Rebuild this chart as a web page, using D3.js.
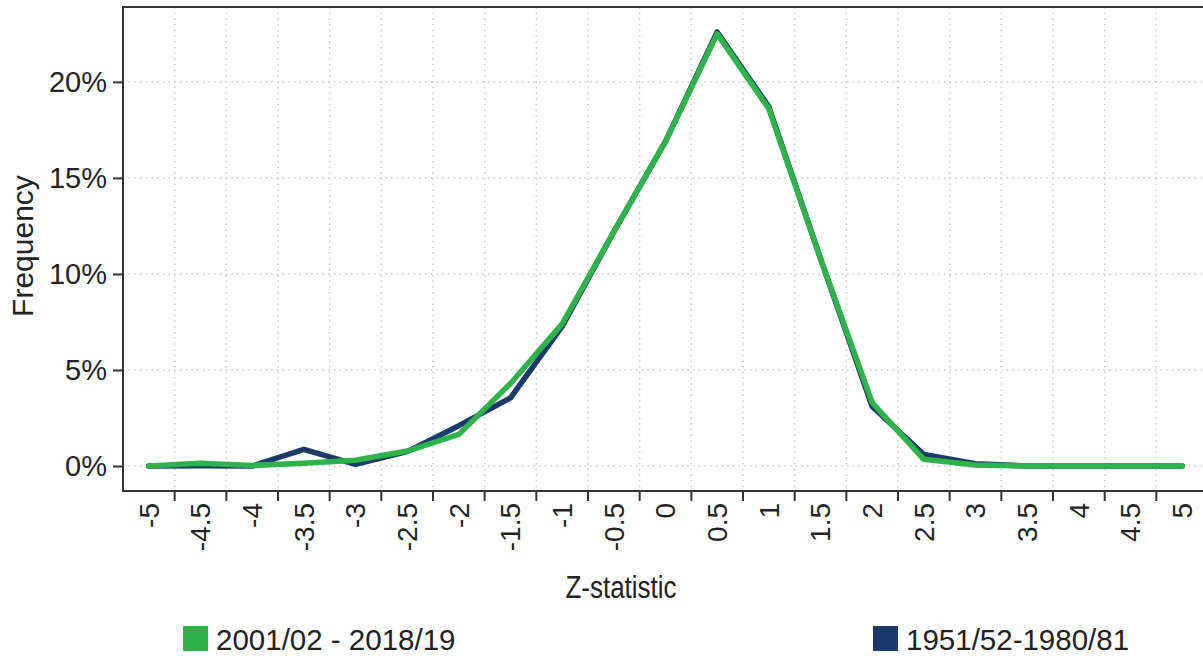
<!DOCTYPE html>
<html><head><meta charset="utf-8">
<script src="https://cdn.jsdelivr.net/npm/d3@7"></script>
<style>body{margin:0;background:#fff;} svg{display:block;font-family:"Liberation Sans",Arial,sans-serif;}</style>
</head><body>
<svg id="c" width="1203" height="658"></svg>
<script>
const categories = ["-5","-4.5","-4","-3.5","-3","-2.5","-2","-1.5","-1","-0.5","0","0.5","1","1.5","2","2.5","3","3.5","4","4.5","5"];
const recent = [0,0.15,0.03,0.15,0.3,0.78,1.65,4.3,7.4,12.2,16.9,22.5,18.6,10.8,3.3,0.35,0.05,0,0,0,0];
const early  = [0,0.02,0,0.87,0.09,0.75,2.1,3.55,7.27,12.2,16.9,22.6,18.7,10.8,3.1,0.6,0.12,0,0,0,0];
const yTicks = [0,5,10,15,20];
const seriesNames = ["2001/02 - 2018/19","1951/52-1980/81"];
const colors = {recent:"#2db34a", early:"#1b3a6b"};

const svg = d3.select("#c");
const L=123, T=7, R=1208, B=491;
const x = d3.scaleBand().domain(categories).range([L,R]).padding(0);
const y = d3.scaleLinear().domain([-1.3,23.9]).range([B,T]);
const cx = d => x(d)+x.bandwidth()/2;

// grid
const g = svg.append("g");
g.selectAll(".vg").data(categories.slice(1)).join("line")
  .attr("x1",d=>x(d)).attr("x2",d=>x(d)).attr("y1",T).attr("y2",B)
  .attr("stroke","#c8c8c8").attr("stroke-width",1.5).attr("stroke-dasharray","1.5,4.2");
g.selectAll(".hg").data(yTicks).join("line")
  .attr("x1",L).attr("x2",R).attr("y1",d=>y(d)).attr("y2",d=>y(d))
  .attr("stroke","#c8c8c8").attr("stroke-width",1.5).attr("stroke-dasharray","1.5,4.2");

// lines
const line = d3.line().x((d,i)=>cx(categories[i])).y(d=>y(d));
svg.append("path").datum(early).attr("d",line).attr("fill","none")
  .attr("stroke",colors.early).attr("stroke-width",5.5).attr("stroke-linejoin","round").attr("stroke-linecap","round");
svg.append("path").datum(recent).attr("d",line).attr("fill","none")
  .attr("stroke",colors.recent).attr("stroke-width",5.5).attr("stroke-linejoin","round").attr("stroke-linecap","round");

// frame
svg.append("rect").attr("x",L).attr("y",T).attr("width",R-L).attr("height",B-T)
  .attr("fill","none").attr("stroke","#333").attr("stroke-width",2);

// y axis
const ya = svg.append("g").attr("transform",`translate(${L},0)`)
  .call(d3.axisLeft(y).tickValues(yTicks).tickSize(10).tickPadding(6).tickFormat(d=>d+"%"));
ya.select(".domain").remove();
ya.selectAll("line").attr("stroke","#333").attr("stroke-width",2);
ya.selectAll("text").attr("font-size",29).attr("fill","#222").attr("font-family","Liberation Sans, Arial, sans-serif");

// x axis
const xa = svg.append("g").attr("transform",`translate(0,${B})`)
  .call(d3.axisBottom(x).tickSize(0).tickFormat(d=>d));
xa.select(".domain").remove();
xa.selectAll(".tick text").attr("font-size",28).attr("fill","#222").attr("font-family","Liberation Sans, Arial, sans-serif")
  .attr("text-anchor","end").attr("transform","translate(0,12) rotate(-90)").attr("x",0).attr("y",0).attr("dy","0.35em");
svg.append("g").selectAll("line").data(categories.slice(1)).join("line")
  .attr("x1",d=>x(d)).attr("x2",d=>x(d)).attr("y1",B).attr("y2",B+10).attr("stroke","#333").attr("stroke-width",2);

// axis titles
svg.append("text").attr("transform","translate(621,598) scale(1,1.2)").attr("text-anchor","middle")
  .attr("font-size",26).attr("fill","#222").text("Z-statistic");
svg.append("text").attr("transform","translate(33,246) rotate(-90)").attr("text-anchor","middle")
  .attr("font-size",30).attr("fill","#222").text("Frequency");

// legend
const leg = [{name:seriesNames[0],c:colors.recent,x:183},{name:seriesNames[1],c:colors.early,x:873}];
const lg = svg.append("g").selectAll("g").data(leg).join("g").attr("transform",d=>`translate(${d.x},626)`);
lg.append("rect").attr("width",25).attr("height",25).attr("fill",d=>d.c);
lg.append("text").attr("x",33).attr("y",24).attr("font-size",29.5).attr("fill","#222").text(d=>d.name);
</script>
</body></html>
